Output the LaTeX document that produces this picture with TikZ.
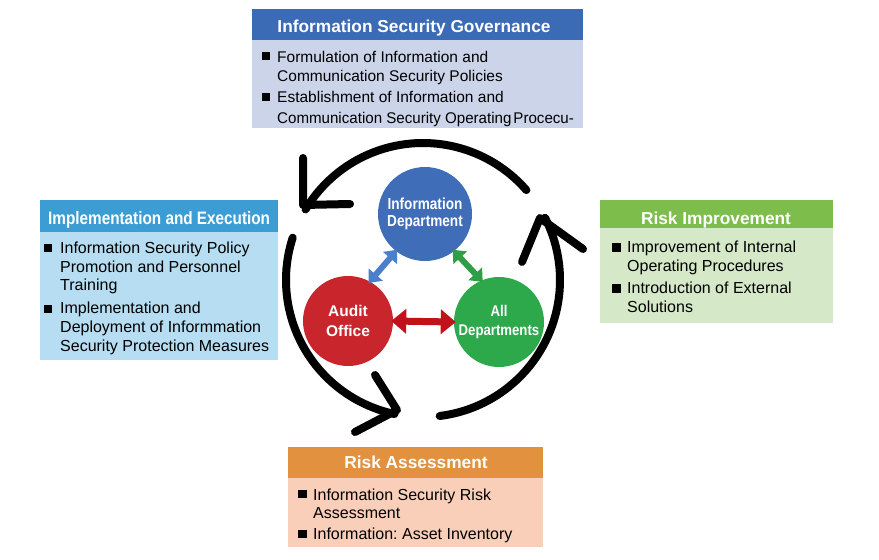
\documentclass[tikz,border=0pt]{standalone}
\usepackage{fontspec}
\setmainfont{Liberation Sans}
\newfontfamily\condfont{Liberation Sans}[FakeStretch=0.85]
\usetikzlibrary{arrows.meta}
\definecolor{govHead}{HTML}{3C6BB5}
\definecolor{govBody}{HTML}{CCD4EA}
\definecolor{impHead}{HTML}{3B9DD3}
\definecolor{impBody}{HTML}{B6DDF1}
\definecolor{riHead}{HTML}{7CBD4C}
\definecolor{riBody}{HTML}{D5E9C8}
\definecolor{raHead}{HTML}{E2923F}
\definecolor{raBody}{HTML}{F9CFB9}
\definecolor{cBlue}{HTML}{3F6DB8}
\definecolor{cRed}{HTML}{C8262C}
\definecolor{cGreen}{HTML}{2DA84A}
\definecolor{aBlue}{HTML}{4B7FCC}
\definecolor{aGreen}{HTML}{2E9E48}
\definecolor{aRed}{HTML}{C1121C}
\frenchspacing
\begin{document}
\begin{tikzpicture}[x=1pt,y=-1pt,
  head/.style={font=\fontsize{17.3}{20}\selectfont\bfseries, text=white, anchor=base, inner sep=0pt},
  bodyA/.style={font=\fontsize{15.5}{19}\selectfont, anchor=base west, inner sep=0pt},
  bodyB/.style={font=\fontsize{16}{19}\selectfont, anchor=base west, inner sep=0pt},
  circ/.style={circle, inner sep=0pt, text=white, align=center},
  cyc/.style={line width=8pt, line cap=round, line join=round, black},
  darrow/.style={line width=6pt, shorten <=-2pt, shorten >=-2pt,
    {Triangle[length=11pt,width=18pt]}-{Triangle[length=11pt,width=18pt]}},
  rarrow/.style={line width=7pt, shorten <=-2pt, shorten >=-2pt,
    {Triangle[length=15pt,width=24pt]}-{Triangle[length=15pt,width=24pt]}}]
\useasboundingbox (0,0) rectangle (879,560);
\fill[white] (0,0) rectangle (879,560);

% ---------- Information Security Governance ----------
\fill[govBody] (252,40) rectangle (583,128);
\fill[govHead] (252,9) rectangle (583,40);
\node[head] (govT) at (414,32) {Information Security Governance};
\fill (262,52) rectangle (270,60);
\node[bodyA] (g1) at (277,62) {Formulation of Information and};
\node[bodyA] (g2) at (277,81) {Communication Security Policies};
\fill (262,93) rectangle (270,101);
\node[bodyA] (g3) at (277,102) {Establishment of Information and};
\node[bodyA] (g4) at (277,123) {\scalebox{0.975}[1]{Communication Security Operating\hspace{2pt}Procecu-}};

% ---------- Implementation and Execution ----------
\fill[impBody] (40,232) rectangle (278,360);
\fill[impHead] (40,200) rectangle (278,232);
\node[anchor=base west, inner sep=0pt, text=white, font=\condfont\bfseries\fontsize{18}{20}\selectfont] (impT) at (48,224) {Implementation and Execution};
\fill (44,244) rectangle (52,252);
\node[bodyB] (i1) at (60,253) {Information Security Policy};
\node[bodyB] (i2) at (60,272) {Promotion and Personnel};
\node[bodyB] (i3) at (60,290) {Training};
\fill (44,305) rectangle (52,313);
\node[bodyB] (i4) at (60,313) {Implementation and};
\node[bodyB] (i5) at (60,332) {Deployment of Informmation};
\node[bodyB] (i6) at (60,351) {Security Protection Measures};

% ---------- Risk Improvement ----------
\fill[riBody] (600,228) rectangle (833,323);
\fill[riHead] (600,200) rectangle (833,228);
\node[head] (riT) at (716,224) {Risk Improvement};
\fill (612,243) rectangle (621,252);
\node[bodyB] (r1) at (627,252) {Improvement of Internal};
\node[bodyB] (r2) at (627,271) {Operating Procedures};
\fill (612,284) rectangle (621,293);
\node[bodyB] (r3) at (627,293) {Introduction of External};
\node[bodyB] (r4) at (627,312) {Solutions};

% ---------- Risk Assessment ----------
\fill[raBody] (288,478) rectangle (543,547);
\fill[raHead] (288,447) rectangle (543,478);
\node[head] (raT) at (416,468) {Risk Assessment};
\fill (298,490) rectangle (307,498);
\node[bodyB] (a1) at (313,500) {Information Security Risk};
\node[bodyB] (a2) at (313,518) {Assessment};
\fill (298,530) rectangle (307,538);
\node[bodyB] (a3) at (313,539) {Information: Asset Inventory};

% ---------- cycle arrows ----------
\draw[cyc] (423,280) ++(-41:137) arc[start angle=-41, end angle=-149, radius=137];
\draw[cyc] (303,158) -- (303,205) -- (350,204);
\draw[cyc] (423,280) ++(-162:137) arc[start angle=-162, end angle=-258, radius=137];
\draw[cyc] (375,375) -- (397,410) -- (355,432);
\draw[cyc] (423,280) ++(-277:137) arc[start angle=-277, end angle=-387, radius=137];
\draw[cyc] (522,262) -- (540,218) -- (583,249);

% ---------- circles ----------
\node[circ, fill=cBlue, minimum size=94pt, font=\condfont\bfseries\fontsize{16}{17}\selectfont] (info) at (425,214) {Information\\Department};
\node[circ, fill=cRed, minimum size=90pt, font=\bfseries\fontsize{15.5}{20}\selectfont] (audit) at (348,321) {Audit\\Office};
\node[circ, fill=cGreen, minimum size=90pt, font=\condfont\bfseries\fontsize{15.5}{19}\selectfont] (all) at (499,322) {All\\Departments};

\draw[darrow, aBlue] (audit.61) -- (info.232);
\draw[darrow, aGreen] (info.308) -- (all.113);
\draw[rarrow, aRed] (audit.0) -- (all.180);
\end{tikzpicture}
\end{document}
